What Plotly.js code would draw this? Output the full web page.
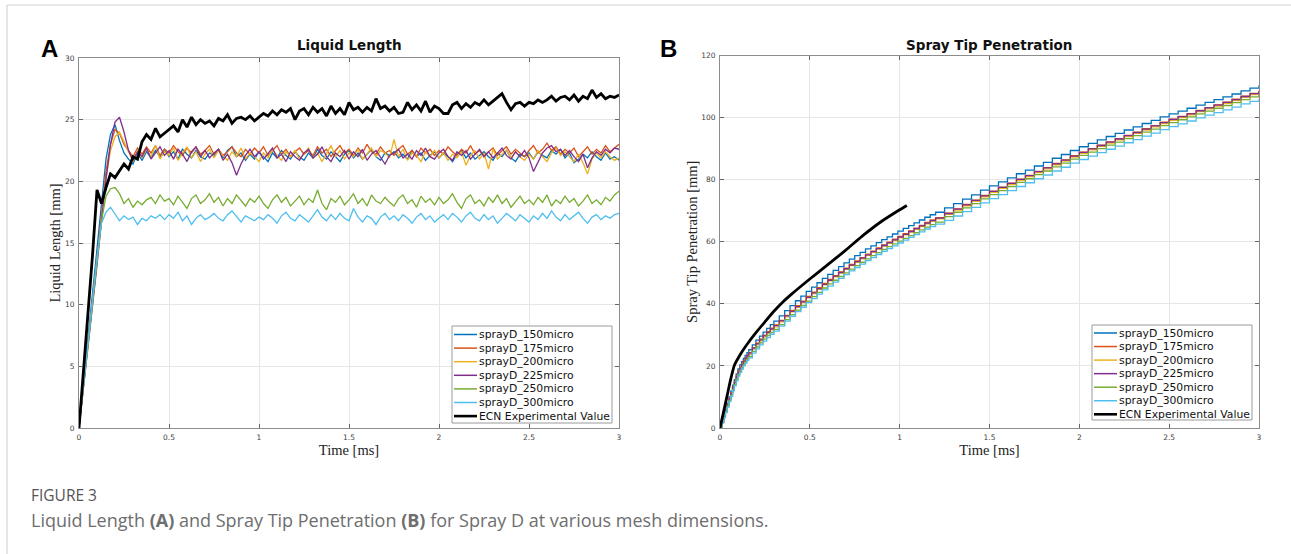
<!DOCTYPE html>
<html>
<head>
<meta charset="utf-8">
<script src="https://cdn.plot.ly/plotly-3.0.1.min.js"></script>
<style>
html,body{margin:0;padding:0;background:#fff;}
#chart{width:1291px;height:554px;}
</style>
</head>
<body>
<div id="chart"></div>
<script>
// ---------------- DATA ----------------
const seriesNames = ["sprayD_150micro","sprayD_175micro","sprayD_200micro","sprayD_225micro","sprayD_250micro","sprayD_300micro","ECN Experimental Value"];

// Panel A : Liquid Length [mm] vs Time [ms]
const timeA = [0,0.025,0.05,0.075,0.1,0.125,0.15,0.175,0.2,0.225,
0.25,0.275,0.3,0.325,0.35,0.375,0.4,0.425,0.45,0.475,
0.5,0.525,0.55,0.575,0.6,0.625,0.65,0.675,0.7,0.725,
0.75,0.775,0.8,0.825,0.85,0.875,0.9,0.925,0.95,0.975,
1,1.025,1.05,1.075,1.1,1.125,1.15,1.175,1.2,1.225,
1.25,1.275,1.3,1.325,1.35,1.375,1.4,1.425,1.45,1.475,
1.5,1.525,1.55,1.575,1.6,1.625,1.65,1.675,1.7,1.725,
1.75,1.775,1.8,1.825,1.85,1.875,1.9,1.925,1.95,1.975,
2,2.025,2.05,2.075,2.1,2.125,2.15,2.175,2.2,2.225,
2.25,2.275,2.3,2.325,2.35,2.375,2.4,2.425,2.45,2.475,
2.5,2.525,2.55,2.575,2.6,2.625,2.65,2.675,2.7,2.725,
2.75,2.775,2.8,2.825,2.85,2.875,2.9,2.925,2.95,2.975,3];

const llen150 = [0,3.6,7.2,10.8,14.5,18.5,21.8,23.8,24.6,23.3,
22.3,21.8,21.4,22.3,21.7,22.4,21.9,22.5,22.0,22.6,
22.0,22.4,21.8,22.6,22.2,21.9,22.5,22.0,21.8,22.3,
22.1,22.6,21.9,22.5,22.8,22.0,22.3,21.7,22.2,21.8,
22.4,22.0,21.6,22.3,21.9,22.5,22.1,21.8,22.4,22.0,
21.7,22.3,21.9,22.6,22.1,21.8,22.4,22.0,21.6,22.2,
22.5,21.9,22.3,21.8,22.2,22.6,22.0,21.7,22.3,22.1,
22.4,21.9,22.2,21.8,22.5,22.0,22.3,21.7,22.1,22.4,
21.9,22.3,22.0,21.6,22.2,22.5,21.9,22.3,21.8,22.1,
22.4,22.0,21.7,22.3,22.0,22.5,21.9,21.6,22.2,22.0,
22.3,21.8,22.4,22.1,21.9,22.5,22.2,22.6,21.9,22.3,
21.5,21.8,22.2,21.9,22.4,22.0,21.7,22.3,21.8,22.0,21.7];

const llen175 = [0,3.4,6.8,10.3,13.8,17.5,20.8,23.0,24.2,23.9,
23.0,22.5,22.0,22.7,22.2,22.8,22.3,22.9,22.1,22.6,
22.3,22.9,22.4,22.1,22.7,22.3,22.8,22.2,22.5,22.9,
22.2,22.6,22.1,22.4,22.8,22.3,22.0,22.6,22.2,22.7,
22.3,22.8,22.1,22.5,22.9,22.2,22.6,22.0,22.4,22.7,
22.2,22.5,22.1,22.8,22.3,22.6,22.0,22.5,22.9,22.3,
22.6,22.1,22.7,22.3,23.0,22.4,22.2,22.8,22.3,22.5,
22.1,22.6,22.9,22.2,22.5,22.0,22.7,22.3,22.6,22.1,
22.5,22.2,22.8,22.4,22.1,22.6,22.3,22.9,22.2,22.5,
22.0,22.4,22.7,22.1,22.5,22.8,22.2,22.6,22.3,22.0,
22.5,22.9,22.3,22.6,23.1,22.5,22.8,22.2,22.6,22.3,
22.7,22.0,22.4,22.8,22.2,22.6,22.3,22.9,22.4,22.7,23.0];

const llen200 = [0,3.3,6.6,10.0,13.4,17.0,20.2,22.5,23.6,24.0,
23.2,22.4,21.6,22.5,21.9,22.6,22.0,22.9,21.8,22.4,
22.1,22.7,21.7,22.3,22.8,21.9,22.4,21.6,22.2,22.6,
21.9,22.5,22.1,21.7,22.4,22.0,22.7,21.8,22.3,22.0,
21.6,22.3,21.9,22.6,22.1,21.7,22.4,22.0,22.5,21.8,
22.2,22.7,21.9,22.3,21.6,22.2,22.9,22.0,22.5,21.8,
22.3,22.0,22.6,21.8,22.2,22.7,22.0,22.5,22.3,21.9,
23.4,22.0,22.6,21.7,22.3,22.1,21.6,22.4,22.0,22.5,
21.9,22.3,21.7,22.2,21.9,22.4,21.3,22.1,22.5,21.8,
22.3,21.0,22.6,21.8,22.2,22.5,21.9,22.4,22.0,21.7,
22.2,21.8,22.5,22.0,21.6,22.3,22.7,22.1,22.4,22.0,
21.6,22.2,21.5,20.6,21.8,22.3,21.9,22.4,22.0,21.7,21.9];

const llen225 = [0,3.2,6.4,9.8,13.2,16.8,20.2,23.0,24.8,25.2,
24.0,22.5,21.7,22.4,22.0,22.7,21.8,22.3,22.8,22.1,
22.5,21.8,22.6,22.2,21.6,22.4,22.8,22.0,22.5,21.9,
22.3,22.6,21.7,22.2,21.5,20.5,21.4,22.1,22.6,22.0,
22.4,21.8,22.3,22.7,21.9,22.2,21.6,22.4,22.0,21.7,
22.3,22.6,21.9,22.2,22.8,22.0,21.6,22.3,22.0,22.5,
21.8,22.4,22.0,22.6,21.7,22.2,22.5,21.9,21.4,22.1,
22.3,22.6,21.9,22.2,21.8,22.5,22.1,22.7,22.0,21.8,
22.3,22.6,22.0,21.7,22.4,22.1,22.5,21.8,22.2,22.6,
22.0,22.4,21.9,22.3,22.7,22.1,21.8,22.4,22.0,22.5,
21.9,20.8,21.6,22.3,22.7,22.9,22.4,22.6,22.1,22.5,
22.0,21.6,22.2,21.1,21.9,22.4,22.1,22.6,22.3,22.7,22.6];

const llen250 = [0,3.3,6.6,10.0,13.5,16.8,18.8,19.4,19.5,19.0,
18.2,18.6,17.9,18.4,18.1,18.5,18.7,18.2,18.9,18.4,
18.6,18.1,18.8,18.3,17.8,18.6,18.9,18.2,18.5,19.0,
18.3,18.7,18.0,18.6,18.2,18.9,18.4,18.0,18.6,18.3,
18.8,18.2,17.8,18.5,18.9,18.3,18.7,18.0,18.4,18.8,
18.1,18.6,18.3,19.3,18.2,17.7,18.6,18.3,18.8,18.1,
18.5,19.0,18.2,18.6,18.0,18.9,18.4,18.2,18.7,18.3,
18.0,18.6,18.9,18.2,18.5,17.9,18.8,18.3,18.6,18.1,
18.7,18.2,18.5,19.0,18.3,17.8,18.6,18.9,18.2,18.5,
18.0,18.7,18.3,18.9,18.2,18.6,17.9,18.4,18.8,18.2,
18.5,18.1,18.7,18.3,18.9,18.0,18.5,18.2,18.8,18.3,
18.6,18.0,18.4,18.9,18.2,18.5,18.1,18.7,18.4,18.9,19.2];

const llen300 = [0,3.4,6.8,10.3,13.8,16.6,17.5,17.9,17.3,16.8,
17.2,16.9,17.1,16.5,17.0,16.8,17.2,17.0,17.3,16.9,
17.3,17.0,17.5,16.8,17.2,16.5,17.0,17.3,16.9,17.1,
17.4,17.0,16.8,17.3,17.6,17.1,16.7,17.2,17.0,16.8,
17.1,16.9,17.3,17.0,16.6,17.2,17.5,17.0,16.8,17.3,
17.0,16.7,17.2,17.7,17.1,16.8,17.3,16.9,17.4,17.0,
16.8,17.8,17.1,16.7,17.2,17.0,16.5,17.1,17.4,16.9,
17.2,16.8,17.3,17.0,16.6,17.1,17.4,16.9,17.2,16.7,
17.0,17.3,16.9,17.4,17.1,16.7,17.2,17.5,17.0,16.8,
17.3,16.9,17.2,16.6,17.0,17.4,17.1,16.8,17.3,17.0,
16.7,17.2,16.9,17.4,17.0,17.6,17.1,16.8,17.3,16.9,
17.2,17.5,17.0,16.6,17.1,17.3,16.9,17.2,17.0,17.3,17.4];

const llenECN = [0,4.5,9.0,14.0,19.3,18.2,19.5,20.6,20.3,20.9,
21.4,21.0,22.0,21.8,23.2,23.8,23.4,24.3,23.6,23.9,
24.2,24.5,24.0,25.0,24.4,25.2,24.6,25.0,24.7,24.9,
24.5,25.1,24.9,25.4,24.7,25.1,25.2,25.0,25.3,24.9,
25.2,25.5,25.3,25.7,25.4,25.8,25.6,25.9,25.0,25.7,
25.9,25.4,26.0,25.6,25.9,25.3,26.1,25.5,25.9,25.4,
26.4,25.8,26.0,25.6,26.0,25.7,26.7,25.9,26.1,25.7,
26.0,25.5,25.6,26.4,25.8,26.2,25.7,26.5,25.6,26.1,
25.9,25.5,25.5,26.2,26.4,25.9,26.3,26.0,26.4,26.2,
26.6,26.2,26.5,26.8,27.1,26.4,25.8,26.3,26.4,26.1,
26.4,26.3,26.6,26.4,26.6,26.9,26.5,26.8,26.9,26.6,
27.0,26.5,26.9,26.7,27.4,26.8,27.1,26.7,26.9,26.8,27.0];

// Panel B : Spray Tip Penetration [mm] vs Time [ms]
const timeB = [0,0.01,0.02,0.03,0.04,0.05,0.06,0.07,0.08,0.09,0.1,0.11,0.12,0.13,0.14,0.15,0.16,0.18,0.2,0.22,0.24,0.26,0.28,0.3,
0.33,0.36,0.39,0.42,0.45,0.48,0.51,0.54,0.57,0.6,0.63,0.66,0.69,0.72,0.75,0.78,0.81,0.84,0.87,0.9,0.93,0.96,0.99,1.02,1.05,1.08,1.11,1.14,1.17,1.2,
1.25,1.3,1.35,1.4,1.45,1.5,1.55,1.6,1.65,1.7,1.75,1.8,1.85,1.9,1.95,2,2.05,2.1,2.15,2.2,2.25,2.3,2.35,2.4,2.45,2.5,2.55,2.6,2.65,2.7,2.75,2.8,2.85,2.9,2.95,3];

const stp150 = [0,2.0,4.0,6.0,8.0,10.0,11.9,13.8,15.6,17.4,19.0,20.3,21.4,22.4,23.4,24.3,25.2,26.8,28.3,29.6,30.9,32.1,33.3,34.4,
36.1,37.8,39.4,41.0,42.5,44.0,45.4,46.8,48.2,49.5,50.8,52.0,53.2,54.4,55.5,56.6,57.7,58.7,59.7,60.7,61.6,62.5,63.4,64.3,65.2,66.1,67.0,67.9,68.7,69.5,
70.9,72.3,73.7,75.1,76.6,78.0,79.3,80.6,81.9,83.1,84.4,85.6,86.9,88.1,89.4,90.6,91.7,92.8,93.9,94.9,96.0,97.0,98.1,99.1,100.2,101.2,102.1,103.0,104.0,104.9,105.8,106.7,107.6,108.6,109.5,110.4];

const stp175 = [0,1.9,3.8,5.7,7.6,9.5,11.4,13.2,15.0,16.8,18.4,19.6,20.7,21.7,22.6,23.5,24.3,25.9,27.3,28.6,29.9,31.0,32.2,33.2,
34.7,36.3,37.9,39.4,40.9,42.4,43.8,45.2,46.6,47.9,49.1,50.3,51.5,52.7,53.8,54.9,56.0,57.0,58.0,59.0,59.9,60.8,61.7,62.6,63.5,64.4,65.3,66.2,67.0,67.8,
69.2,70.6,72.0,73.4,74.9,76.3,77.6,78.9,80.2,81.4,82.7,83.9,85.2,86.4,87.7,88.9,90.0,91.1,92.2,93.2,94.3,95.3,96.4,97.4,98.5,99.5,100.4,101.3,102.3,103.2,104.1,105.0,105.9,106.9,107.8,108.7];

const stp200 = [0,1.8,3.6,5.4,7.2,9.1,10.9,12.8,14.5,16.2,17.8,19.0,20.1,21.1,22.1,23.0,23.8,25.4,26.8,28.1,29.3,30.5,31.6,32.6,
34.2,35.8,37.4,38.9,40.4,41.9,43.3,44.7,46.1,47.4,48.7,49.9,51.1,52.3,53.4,54.5,55.6,56.6,57.6,58.6,59.5,60.4,61.3,62.2,63.1,64.0,64.9,65.8,66.6,67.4,
68.8,70.2,71.6,73.0,74.5,75.9,77.2,78.5,79.8,81.0,82.3,83.5,84.8,86.0,87.3,88.5,89.6,90.7,91.8,92.8,93.9,94.9,96.0,97.0,98.1,99.1,100.0,100.9,101.9,102.8,103.7,104.6,105.5,106.5,107.4,108.3];

const stp225 = [0,1.8,3.6,5.5,7.4,9.3,11.1,13.0,14.7,16.5,18.1,19.3,20.4,21.4,22.4,23.3,24.1,25.7,27.1,28.4,29.7,30.8,31.9,33.0,
34.5,36.1,37.6,39.1,40.6,42.1,43.5,44.9,46.3,47.6,48.9,50.1,51.3,52.5,53.6,54.7,55.8,56.8,57.8,58.8,59.7,60.6,61.5,62.4,63.3,64.2,65.1,66.0,66.8,67.6,
69.1,70.5,71.9,73.3,74.8,76.2,77.5,78.8,80.1,81.3,82.6,83.8,85.1,86.3,87.6,88.8,89.9,91.0,92.1,93.1,94.2,95.2,96.3,97.3,98.4,99.4,100.3,101.2,102.2,103.1,104.0,104.9,105.8,106.8,107.7,108.6];

const stp250 = [0,1.7,3.4,5.2,7.0,8.8,10.5,12.3,14.0,15.7,17.2,18.4,19.5,20.5,21.4,22.3,23.1,24.7,26.1,27.4,28.6,29.8,30.8,31.8,
33.3,34.9,36.5,38.0,39.5,40.9,42.3,43.7,45.1,46.4,47.6,48.8,50.0,51.2,52.3,53.4,54.5,55.5,56.5,57.5,58.4,59.3,60.2,61.1,62.0,62.9,63.8,64.7,65.5,66.3,
68.1,69.5,70.9,72.3,73.8,75.2,76.5,77.8,79.1,80.3,81.6,82.8,84.1,85.3,86.6,87.8,88.9,90.0,91.1,92.1,93.2,94.2,95.3,96.3,97.4,98.4,99.3,100.2,101.2,102.1,103.0,103.9,104.8,105.8,106.7,107.6];

const stp300 = [0,1.6,3.3,5.0,6.7,8.5,10.2,12.0,13.6,15.2,16.7,17.9,19.0,20.0,20.9,21.8,22.6,24.1,25.5,26.8,28.0,29.1,30.2,31.2,
32.8,34.4,36.0,37.5,38.9,40.4,41.7,43.1,44.5,45.7,47.0,48.2,49.4,50.6,51.7,52.8,53.9,54.9,55.9,56.9,57.8,58.7,59.6,60.5,61.4,62.3,63.2,64.1,64.9,65.7,
66.9,68.3,69.7,71.1,72.5,73.9,75.2,76.5,77.8,79.0,80.3,81.5,82.8,84.0,85.3,86.5,87.6,88.7,89.8,90.8,91.9,92.9,94.0,95.0,96.1,97.1,98.0,98.9,99.9,100.8,101.6,102.5,103.4,104.4,105.2,106.1];

const timeECN_B = [0,0.02,0.04,0.06,0.08,0.1,0.125,0.15,0.2,0.25,0.3,0.35,0.4,0.5,0.6,0.7,0.8,0.9,1.0,1.04];
const stpECN    = [0,5.2,10.5,15.8,20.2,22.4,24.8,26.9,30.7,34.2,37.6,40.6,43.2,48.0,52.6,57.3,62.2,66.6,70.3,71.7];

const ticksA = [0,5,10,15,20,25,30];
const ticksB = [0,20,40,60,80,100,120];
const ticksT = [0,0.5,1,1.5,2,2.5,3];

// ---------------- STYLE ----------------
const W = 1291, H = 554;
const colors = ["#0072BD","#D95319","#EDB120","#7E2F8E","#77AC30","#4DBEEE","#000000"];
const px = x => x / W;
const py = y => 1 - y / H;

const seriesA = [llen150, llen175, llen200, llen225, llen250, llen300];
const seriesB = [stp150, stp175, stp200, stp225, stp250, stp300];

const traces = [];
seriesA.forEach((v, i) => traces.push({
  x: timeA, y: v, type: 'scatter', mode: 'lines', name: seriesNames[i],
  line: {color: colors[i], width: 1.3}, xaxis: 'x', yaxis: 'y', showlegend: false
}));
traces.push({x: timeA, y: llenECN, type: 'scatter', mode: 'lines', name: seriesNames[6],
  line: {color: '#000', width: 2.8}, xaxis: 'x', yaxis: 'y', showlegend: false});

seriesB.forEach((v, i) => traces.push({
  x: timeB, y: v, type: 'scatter', mode: 'lines', name: seriesNames[i],
  line: {color: colors[i], width: 1.3, shape: 'hv'}, xaxis: 'x2', yaxis: 'y2', showlegend: false
}));
traces.push({x: timeECN_B, y: stpECN, type: 'scatter', mode: 'lines', name: seriesNames[6],
  line: {color: '#000', width: 2.8, shape: 'spline', smoothing: 0.6}, xaxis: 'x2', yaxis: 'y2', showlegend: false});

const tickFont = {family: 'DejaVu Sans, sans-serif', size: 7.5, color: '#404040'};
const axTitleFont = {family: 'Liberation Serif, serif', size: 14.5, color: '#222'};

function xAxis(domain, anchor) {
  return {
    domain: domain, anchor: anchor, range: [0, 3], tickvals: ticksT,
    ticks: 'inside', ticklen: 4, tickcolor: '#666', showline: true, linecolor: '#8c8c8c', linewidth: 1,
    mirror: 'ticks', showgrid: true, gridcolor: '#e6e6e6', gridwidth: 1, zeroline: false,
    tickfont: tickFont, ticklabelstandoff: 2,
    title: {text: 'Time [ms]', font: axTitleFont, standoff: 3}
  };
}
function yAxis(domain, anchor, range, tv, title, standoff) {
  return {
    domain: domain, anchor: anchor, range: range, tickvals: tv,
    ticks: 'inside', ticklen: 4, tickcolor: '#666', showline: true, linecolor: '#8c8c8c', linewidth: 1,
    mirror: 'ticks', showgrid: true, gridcolor: '#e6e6e6', gridwidth: 1, zeroline: false,
    tickfont: tickFont, ticklabelstandoff: 2,
    title: {text: title, font: axTitleFont, standoff: standoff}
  };
}

const shapes = [];
const annotations = [];

// figure frame (top and left rules)
shapes.push({type: 'line', xref: 'paper', yref: 'paper', x0: px(7), x1: 1, y0: py(5), y1: py(5), line: {color: '#d6d6d6', width: 1.2}});
shapes.push({type: 'line', xref: 'paper', yref: 'paper', x0: px(7), x1: px(7), y0: py(5), y1: 0, line: {color: '#d6d6d6', width: 1.2}});

// custom legends
function legend(left, top, right, bottom, firstRow, rowStep) {
  shapes.push({type: 'rect', xref: 'paper', yref: 'paper', x0: px(left), x1: px(right), y0: py(top), y1: py(bottom),
    line: {color: '#9a9a9a', width: 1}, fillcolor: '#ffffff', layer: 'above'});
  seriesNames.forEach((name, i) => {
    const y = firstRow + i * rowStep;
    shapes.push({type: 'line', xref: 'paper', yref: 'paper', x0: px(left + 2), x1: px(left + 25), y0: py(y), y1: py(y),
      line: {color: colors[i], width: i === 6 ? 2.6 : 1.5}, layer: 'above'});
    annotations.push({xref: 'paper', yref: 'paper', x: px(left + 25), y: py(y), xanchor: 'left', yanchor: 'middle',
      text: name, showarrow: false, font: {family: 'DejaVu Sans, sans-serif', size: 10.8, color: '#111'}});
  });
}
legend(452, 326, 612, 423, 334.5, 13.6);
legend(1092, 325, 1252, 420, 333, 13.55);

// panel titles
annotations.push({xref: 'paper', yref: 'paper', x: px(349), y: py(45), xanchor: 'center', yanchor: 'middle',
  text: '<b>Liquid Length</b>', showarrow: false, font: {family: 'DejaVu Sans, sans-serif', size: 13.5, color: '#111'}});
annotations.push({xref: 'paper', yref: 'paper', x: px(989), y: py(45), xanchor: 'center', yanchor: 'middle',
  text: '<b>Spray Tip Penetration</b>', showarrow: false, font: {family: 'DejaVu Sans, sans-serif', size: 13.5, color: '#111'}});
// panel letters
annotations.push({xref: 'paper', yref: 'paper', x: px(49), y: py(48), xanchor: 'center', yanchor: 'middle',
  text: '<b>A</b>', showarrow: false, font: {family: 'Liberation Sans, Arial, sans-serif', size: 24, color: '#000'}});
annotations.push({xref: 'paper', yref: 'paper', x: px(668), y: py(48), xanchor: 'center', yanchor: 'middle',
  text: '<b>B</b>', showarrow: false, font: {family: 'Liberation Sans, Arial, sans-serif', size: 24, color: '#000'}});
// caption
annotations.push({xref: 'paper', yref: 'paper', x: px(29), y: py(495), xanchor: 'left', yanchor: 'middle',
  text: 'FIGURE 3', showarrow: false, font: {family: 'Open Sans, sans-serif', size: 15.5, color: '#555555'}});
annotations.push({xref: 'paper', yref: 'paper', x: px(29), y: py(520), xanchor: 'left', yanchor: 'middle',
  text: 'Liquid Length <b>(A)</b> and Spray Tip Penetration <b>(B)</b> for Spray D at various mesh dimensions.',
  showarrow: false, font: {family: 'Open Sans, sans-serif', size: 18, color: '#6e6e6e'}});

const layout = {
  width: W, height: H,
  margin: {l: 0, r: 0, t: 0, b: 0, pad: 0},
  paper_bgcolor: '#ffffff', plot_bgcolor: '#ffffff',
  showlegend: false,
  xaxis: xAxis([px(79), px(619)], 'y'),
  yaxis: yAxis([py(428), py(58)], 'x', [0, 30], ticksA, 'Liquid Length [mm]', 0),
  xaxis2: xAxis([px(720), px(1259)], 'y2'),
  yaxis2: yAxis([py(428), py(55.5)], 'x2', [0, 120], ticksB, 'Spray Tip Penetration [mm]', 0),
  shapes: shapes,
  annotations: annotations
};

Plotly.newPlot('chart', traces, layout, {displayModeBar: false, staticPlot: true});
</script>
</body>
</html>
